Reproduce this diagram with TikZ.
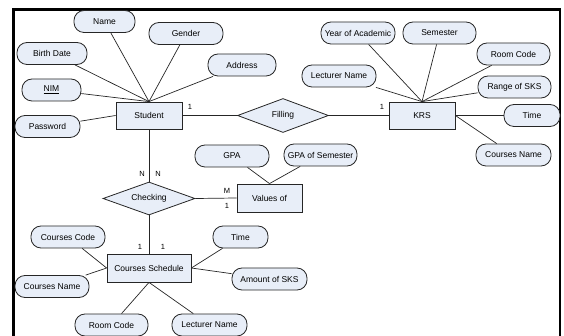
\documentclass[tikz,border=0pt]{standalone}
\usepackage{fontspec}
\setmainfont{Liberation Sans}
\usetikzlibrary{shapes.geometric}
\definecolor{fillc}{HTML}{E8EEF8}
\begin{document}
\begin{tikzpicture}[x=1pt,y=-1pt, font=\fontsize{8.5}{10}\selectfont,
 attr/.style={draw=black!85, fill=fillc, rounded corners=10pt, minimum height=22pt, inner sep=0pt, line width=0.8pt},
 ent/.style={draw=black!85, fill=fillc, minimum width=66pt, minimum height=27pt, inner sep=0pt, line width=0.8pt},
 rel/.style={diamond, aspect=2.7, draw=black!85, fill=fillc, inner sep=0pt, minimum width=91pt, minimum height=34pt, line width=0.8pt},
 lnk/.style={draw=black!85, line width=0.7pt},
 card/.style={font=\fontsize{7.5}{9}\selectfont, inner sep=0pt}]
\useasboundingbox (0,0) rectangle (564,336);
\draw[line width=2.4pt] (13.5,336) -- (13.5,9.5) -- (560,9.5);
\draw[line width=1.6pt] (560,8.3) -- (560,336);
% entities and relations
\node[ent] (student) at (149,115.5) {Student};
\node[rel] (filling) at (283,115.5) {Filling};
\node[ent] (krs) at (422,115.5) {KRS};
\node[ent, minimum width=65pt, minimum height=28pt] (values) at (269.5,198) {Values of};
\node[rel, minimum width=92pt, minimum height=33pt] (checking) at (149,198.5) {Checking};
\node[ent, minimum width=84pt, minimum height=28pt] (cs) at (149,268) {Courses Schedule};
% student attributes
\node[attr, minimum width=61pt] (name) at (104.5,21.5) {Name};
\node[attr, minimum width=74pt] (gender) at (186,33.5) {Gender};
\node[attr, minimum width=70pt] (birth) at (52,53.5) {Birth Date};
\node[attr, minimum width=68pt] (address) at (242,65) {Address};
\node[attr, minimum width=59pt] (nim) at (51.5,90) {\underline{NIM}};
\node[attr, minimum width=65pt] (password) at (47.5,126.5) {Password};
% values attributes
\node[attr, minimum width=74pt] (gpa) at (232,156) {GPA};
\node[attr, minimum width=73pt] (gpasem) at (320.5,155) {GPA of Semester};
% KRS attributes
\node[attr, minimum width=74pt] (year) at (358,33) {Year of Academic};
\node[attr, minimum width=73pt] (semester) at (439.5,33) {Semester};
\node[attr, minimum width=73pt] (roomk) at (513.5,54) {Room Code};
\node[attr, minimum width=74pt] (lectk) at (339,76) {Lecturer Name};
\node[attr, minimum width=73pt] (range) at (514.5,87) {Range of SKS};
\node[attr, minimum width=56pt] (timek) at (532,115.5) {Time};
\node[attr, minimum width=75pt] (coursek) at (513.5,155) {Courses Name};
% courses schedule attributes
\node[attr, minimum width=74pt] (ccode) at (68,237) {Courses Code};
\node[attr, minimum width=55pt] (timec) at (240.5,237) {Time};
\node[attr, minimum width=74pt] (cname) at (52,286.5) {Courses Name};
\node[attr, minimum width=75pt] (amount) at (269.5,279) {Amount of SKS};
\node[attr, minimum width=73pt] (roomc) at (111.5,325) {Room Code};
\node[attr, minimum width=75pt] (lectc) at (209.5,325) {Lecturer Name};
% connectors
\foreach \a in {name,gender,birth,address,nim} \draw[lnk] (\a) -- (student.north);
\draw[lnk] (password) -- (student.west);
\draw[lnk] (student.east) -- (filling.west);
\draw[lnk] (filling.east) -- (krs.west);
\foreach \a in {year,semester,roomk,lectk,range} \draw[lnk] (\a) -- (krs.north);
\draw[lnk] (timek) -- (krs.east);
\draw[lnk] (coursek) -- (krs.east);
\draw[lnk] (student.south) -- (checking.north);
\draw[lnk] (checking.east) -- (values.west);
\draw[lnk] (checking.south) -- (cs.north);
\draw[lnk] (gpa) -- (values.north);
\draw[lnk] (gpasem) -- (values.north);
\draw[lnk] (ccode) -- (cs.west);
\draw[lnk] (cname) -- (cs.west);
\draw[lnk] (timec) -- (cs.east);
\draw[lnk] (amount) -- (cs.east);
\draw[lnk] (roomc) -- (cs.south);
\draw[lnk] (lectc) -- (cs.south);
% cardinalities
\node[card] (c1) at (190,106.5) {1};
\node[card] (c2) at (382,107) {1};
\node[card] (c3) at (142,174) {N};
\node[card] (c4) at (158,174) {N};
\node[card] (c5) at (227,191) {M};
\node[card] (c6) at (227,206) {1};
\node[card] (c7) at (140,247) {1};
\node[card] (c8) at (163,247) {1};
\end{tikzpicture}
\end{document}
